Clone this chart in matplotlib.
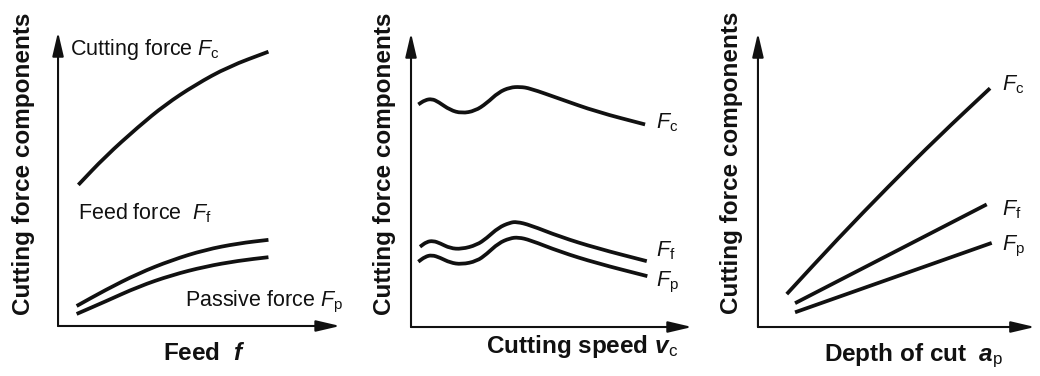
import matplotlib
matplotlib.use("Agg")
import matplotlib.pyplot as plt
from matplotlib.path import Path
from matplotlib.patches import PathPatch

plt.rcParams['font.family'] = ['Liberation Sans', 'DejaVu Sans']
plt.rcParams['mathtext.fontset'] = 'custom'
plt.rcParams['mathtext.rm'] = 'Liberation Sans'
plt.rcParams['mathtext.it'] = 'Liberation Sans:italic'
plt.rcParams['mathtext.bf'] = 'Liberation Sans:bold'
plt.rcParams['mathtext.bfit'] = 'Liberation Sans:italic:bold'

# panel 1: force vs feed (arbitrary units 0..10)
feed_x_c = [0.72, 1.67, 2.85, 3.79, 4.86, 6.04, 7.46]
feed_fc = [4.80, 5.76, 6.78, 7.52, 8.20, 8.82, 9.33]
feed_x_fp = [0.66, 1.67, 2.85, 4.03, 5.21, 6.39, 7.46]
feed_ff = [0.68, 1.22, 1.79, 2.24, 2.59, 2.81, 2.93]
feed_fp = [0.41, 0.83, 1.34, 1.73, 2.02, 2.22, 2.34]

# panel 2: force vs cutting speed
speed_x_c = [0.26, 0.50, 0.74, 0.97, 1.39, 1.80, 2.28, 2.69, 3.11, 3.52, 3.88, 4.23, 5.30, 6.61, 8.33]
speed_fc = [7.57, 7.72, 7.76, 7.66, 7.38, 7.27, 7.35, 7.61, 7.98, 8.15, 8.17, 8.12, 7.76, 7.32, 6.89]
speed_x_f = [0.32, 0.56, 0.79, 1.03, 1.39, 1.80, 2.34, 2.69, 3.11, 3.52, 3.76, 4.23, 5.30, 6.61, 8.39]
speed_ff = [2.73, 2.90, 2.93, 2.85, 2.68, 2.65, 2.79, 3.02, 3.38, 3.55, 3.58, 3.47, 3.07, 2.68, 2.24]
speed_x_p = [0.26, 0.50, 0.74, 1.03, 1.39, 1.80, 2.34, 2.69, 3.11, 3.52, 3.82, 4.23, 5.30, 6.61, 8.41]
speed_fp = [2.22, 2.39, 2.45, 2.36, 2.19, 2.13, 2.24, 2.48, 2.85, 3.02, 3.05, 2.96, 2.56, 2.17, 1.73]

# panel 3: force vs depth of cut
depth_x_c = [1.04, 2.90, 4.70, 6.51, 8.38]
depth_fc = [1.12, 3.02, 4.77, 6.47, 8.12]
depth_x_f = [1.34, 8.26]
depth_ff = [0.81, 4.17]
depth_x_p = [1.34, 8.44]
depth_fp = [0.50, 2.86]

ylabel = 'Cutting force components'
xlabels = [r'Feed  $\mathbfit{f}$', r'Cutting speed $\mathbfit{v}_\mathrm{c}$',
           r'Depth of cut  $\mathbfit{a}_\mathrm{p}$']

INK = '#111111'
LW = 2.7

fig = plt.figure(figsize=(10.4, 3.76), dpi=100)
positions = [
    [0.0558, 0.1330, 0.2712, 0.7819],
    [0.3952, 0.1303, 0.2702, 0.7819],
    [0.7288, 0.1303, 0.2663, 0.7819],
]
axes = [fig.add_axes(p) for p in positions]


def setup(ax):
    ax.set_xlim(0, 10)
    ax.set_ylim(0, 10)
    for s in ax.spines.values():
        s.set_visible(False)
    ax.set_xticks([])
    ax.set_yticks([])
    ax.patch.set_alpha(0)
    arrow = dict(arrowstyle='-|>,head_length=1.45,head_width=0.34', lw=1.5,
                 color=INK, mutation_scale=10, shrinkA=0, shrinkB=0)
    ax.annotate('', xy=(1, 0), xytext=(0, 0), xycoords='axes fraction',
                textcoords='axes fraction', arrowprops=arrow, annotation_clip=False)
    ax.annotate('', xy=(0, 1), xytext=(0, 0), xycoords='axes fraction',
                textcoords='axes fraction', arrowprops=arrow, annotation_clip=False)


def smooth_line(ax, xs, ys):
    # quadratic bezier through the midpoints, so the read points give a smooth stroke
    pts = list(zip(xs, ys))
    if len(pts) < 3:
        ax.plot(xs, ys, color=INK, lw=LW, solid_capstyle='butt')
        return
    verts = [pts[0], ((pts[0][0] + pts[1][0]) / 2, (pts[0][1] + pts[1][1]) / 2)]
    codes = [Path.MOVETO, Path.LINETO]
    for i in range(1, len(pts) - 1):
        mid = ((pts[i][0] + pts[i + 1][0]) / 2, (pts[i][1] + pts[i + 1][1]) / 2)
        verts += [pts[i], mid]
        codes += [Path.CURVE3, Path.CURVE3]
    verts.append(pts[-1])
    codes.append(Path.LINETO)
    ax.add_patch(PathPatch(Path(verts, codes), fill=False, edgecolor=INK, lw=LW,
                           capstyle='butt', joinstyle='round'))


for ax in axes:
    setup(ax)

lab_kw = dict(fontsize=15.5, color=INK, va='baseline', ha='left')
axlab_kw = dict(fontsize=17.5, fontweight='bold', color=INK)

# panel 1
ax = axes[0]
smooth_line(ax, feed_x_c, feed_fc)
smooth_line(ax, feed_x_fp, feed_ff)
smooth_line(ax, feed_x_fp, feed_fp)
ax.text(0.043, 0.922, r'Cutting force $F_\mathrm{c}$', transform=ax.transAxes, **lab_kw)
ax.text(0.070, 0.363, r'Feed force  $F_\mathrm{f}$', transform=ax.transAxes, **lab_kw)
ax.text(0.450, 0.066, r'Passive force $F_\mathrm{p}$', transform=ax.transAxes, **lab_kw)

# panel 2
ax = axes[1]
smooth_line(ax, speed_x_c, speed_fc)
smooth_line(ax, speed_x_f, speed_ff)
smooth_line(ax, speed_x_p, speed_fp)
ax.text(0.872, 0.676, r'$F_\mathrm{c}$', transform=ax.transAxes, **lab_kw)
ax.text(0.872, 0.239, r'$F_\mathrm{f}$', transform=ax.transAxes, **lab_kw)
ax.text(0.872, 0.137, r'$F_\mathrm{p}$', transform=ax.transAxes, **lab_kw)

# panel 3
ax = axes[2]
smooth_line(ax, depth_x_c, depth_fc)
smooth_line(ax, depth_x_f, depth_ff)
smooth_line(ax, depth_x_p, depth_fp)
ax.text(0.880, 0.806, r'$F_\mathrm{c}$', transform=ax.transAxes, **lab_kw)
ax.text(0.880, 0.381, r'$F_\mathrm{f}$', transform=ax.transAxes, **lab_kw)
ax.text(0.880, 0.262, r'$F_\mathrm{p}$', transform=ax.transAxes, **lab_kw)

# axis labels
ylab_pos = [(-0.124, 0.553), (-0.096, 0.554), (-0.095, 0.558)]
xlab_pos = [(0.518, -0.116), (0.610, -0.088), (0.563, -0.116)]
for ax, (yx, yy), (xx, xy), xl in zip(axes, ylab_pos, xlab_pos, xlabels):
    ax.text(yx, yy, ylabel, rotation=90, ha='center', va='center',
            transform=ax.transAxes, **axlab_kw)
    ax.text(xx, xy, xl, ha='center', va='baseline', transform=ax.transAxes, **axlab_kw)

fig.savefig('out.png', dpi=100)
